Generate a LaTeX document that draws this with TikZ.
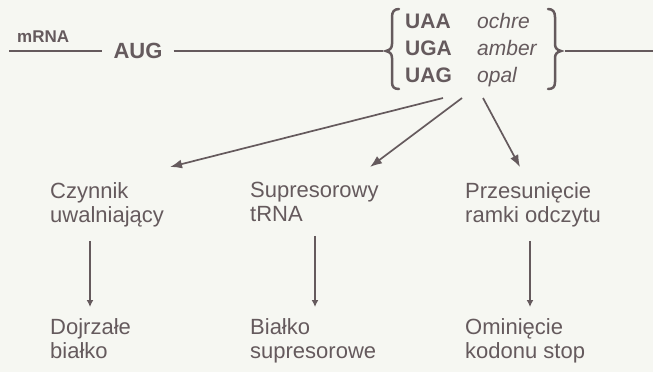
\documentclass[tikz,border=0pt]{standalone}
\usepackage{fontspec}
\setmainfont{Liberation Sans}
\usetikzlibrary{arrows.meta}
\definecolor{ink}{HTML}{655A5D}
\definecolor{paper}{HTML}{F6F7F2}
\begin{document}
\begin{tikzpicture}[x=1pt,y=-1pt,
  every node/.style={inner sep=0pt, text=ink},
  lbl/.style={font=\fontsize{22}{24}\selectfont, align=left, anchor=north west},
  codon/.style={font=\fontsize{21}{24}\selectfont\bfseries, anchor=base west},
  codonname/.style={font=\fontsize{21}{24}\selectfont\itshape, anchor=base west},
  rna/.style={draw=ink, line width=1.7pt},
  brace/.style={draw=ink, line width=2.5pt, line cap=round},
  arr/.style={draw=ink, line width=1.7pt, -{Latex[length=12pt,width=9pt]}},
  varr/.style={draw=ink, line width=2pt, -{Latex[length=7pt,width=7pt]}}]
\fill[paper] (0,0) rectangle (653,372);
\useasboundingbox (0,0) rectangle (653,372);

% mRNA strand with start codon
\node[font=\fontsize{17}{20}\selectfont\bfseries, anchor=base west] (mrna) at (17,42) {mRNA};
\node[font=\fontsize{22}{24}\selectfont\bfseries, inner xsep=11pt] (aug) at (138,51) {AUG};
\coordinate (L) at (9,51);
\coordinate (lb) at (383,51);
\coordinate (rb) at (565,51);
\coordinate (R) at (653,51);
\draw[rna] (L) -- (aug);
\draw[rna] (aug) -- (lb);
\draw[rna] (rb) -- (R);

% stop codons
\node[codon] (u1) at (405,28) {UAA};
\node[codon] (u2) at (405,55) {UGA};
\node[codon] (u3) at (405,82) {UAG};
\node[codonname] (o1) at (477,28) {ochre};
\node[codonname] (o2) at (477,55) {amber};
\node[codonname] (o3) at (477,82) {opal};

% braces around the stop codons
\draw[brace] (399,9) .. controls (394,9) and (392,12) .. (392,17) -- (392,44)
  .. controls (392,48) and (390,50) .. (386,51) .. controls (390,52) and (392,54) .. (392,58)
  -- (392,82) .. controls (392,87) and (394,89) .. (399,89);
\draw[brace] (548,9) .. controls (553,9) and (555,12) .. (555,17) -- (555,44)
  .. controls (555,48) and (557,50) .. (561,51) .. controls (557,52) and (555,54) .. (555,58)
  -- (555,82) .. controls (555,87) and (553,89) .. (548,89);

% outcomes
\node[lbl] (c1) at (50,182) {Czynnik\\uwalniający};
\node[lbl] (c2) at (250,182) {Supresorowy\\tRNA};
\node[lbl] (c3) at (465,182) {Przesunięcie\\ramki odczytu};
\node[lbl] (d1) at (50,318) {Dojrzałe\\białko};
\node[lbl] (d2) at (250,318) {Białko\\supresorowe};
\node[lbl] (d3) at (465,318) {Ominięcie\\kodonu stop};

\coordinate (s1) at (443,98);
\coordinate (s2) at (462,98);
\coordinate (s3) at (483,98);
\coordinate (t1) at (170,167);
\coordinate (t2) at (370,167);
\coordinate (t3) at (520,167);
\draw[arr] (s1) -- (t1);
\draw[arr] (s2) -- (t2);
\draw[arr] (s3) -- (t3);

\draw[varr, shorten <=14pt, shorten >=11pt] ([xshift=40pt]c1.south west) -- ([xshift=40pt]d1.north west);
\draw[varr, shorten <=14pt, shorten >=11pt] ([xshift=65pt]c2.south west) -- ([xshift=65pt]d2.north west);
\draw[varr, shorten <=14pt, shorten >=11pt] ([xshift=65pt]c3.south west) -- ([xshift=65pt]d3.north west);
\end{tikzpicture}
\end{document}
